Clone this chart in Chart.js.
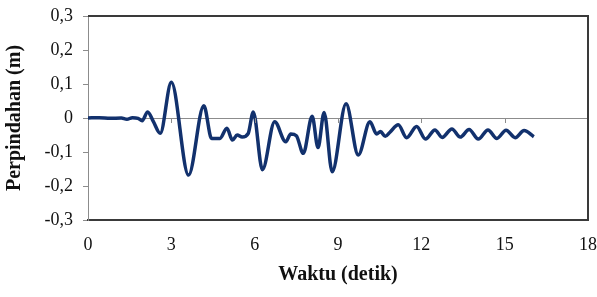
<!DOCTYPE html>
<html>
<head>
<meta charset="utf-8">
<script src="https://cdn.jsdelivr.net/npm/chart.js@4"></script>
<style>
  html, body { margin: 0; padding: 0; background: #fff; }
  #wrap { width: 597px; height: 297px; }
</style>
</head>
<body>
<div id="wrap"><canvas id="chartCanvas"></canvas></div>
<script>
"use strict";

// time (detik) and displacement (m)
const times = [0, 0.4, 0.8, 1.2, 1.4, 1.6, 1.8, 1.95, 2.15, 2.35, 2.6, 3.0, 3.62, 4.17, 4.45, 4.75, 5.0, 5.2, 5.37, 5.55, 5.77, 5.95,
  6.28, 6.72, 7.12, 7.3, 7.5, 7.75, 8.07, 8.28, 8.5, 8.79, 9.29, 9.73, 10.15, 10.39, 10.53, 10.7, 10.87, 11.17, 11.47, 11.83,
  12.15, 12.49, 12.75, 13.1, 13.4, 13.72, 14.05, 14.4, 14.72, 15.05, 15.38, 15.7, 16.05];
const disp = [0, 0.001, -0.001, 0, -0.004, 0.001, -0.001, -0.008, 0.018, -0.01, -0.045, 0.105, -0.168, 0.036, -0.06, -0.06, -0.03, -0.065, -0.05, -0.056, -0.045, 0.018,
  -0.152, -0.011, -0.07, -0.047, -0.052, -0.104, 0.005, -0.087, 0.016, -0.158, 0.042, -0.109, -0.011, -0.047, -0.04, -0.054, -0.042, -0.02, -0.058, -0.025,
  -0.062, -0.035, -0.057, -0.032, -0.056, -0.034, -0.062, -0.035, -0.06, -0.036, -0.058, -0.037, -0.055];

const xLabel = 'Waktu (detik)';
const yLabel = 'Perpindahan (m)';
const xMin = 0, xMax = 18, xStep = 3;
const yMin = -0.3, yMax = 0.3, yStep = 0.1;

const serif = "'Liberation Serif', 'Times New Roman', serif";

// frame on top/right plus small ticks on the zero line
const framePlugin = {
  id: 'frame',
  afterDraw(chart) {
    const { ctx, chartArea: a, scales } = chart;
    ctx.save();
    ctx.strokeStyle = '#3a3a3a';
    ctx.lineWidth = 2;
    ctx.beginPath();
    ctx.moveTo(a.left, a.top);
    ctx.lineTo(a.right, a.top);
    ctx.lineTo(a.right, a.bottom);
    ctx.stroke();
    const y0 = scales.y.getPixelForValue(0);
    ctx.strokeStyle = '#8c8c8c';
    ctx.lineWidth = 1;
    for (let v = xMin + xStep; v < xMax; v += xStep) {
      const px = Math.round(scales.x.getPixelForValue(v)) + 0.5;
      ctx.beginPath();
      ctx.moveTo(px, y0);
      ctx.lineTo(px, y0 + 5);
      ctx.stroke();
    }
    ctx.restore();
  }
};

const ctx = document.getElementById('chartCanvas').getContext('2d');
const chart = new Chart(ctx, {
  type: 'line',
  data: {
    datasets: [{
      data: times.map((t, i) => ({ x: t, y: disp[i] })),
      borderColor: '#12316d',
      borderWidth: 3.5,
      pointRadius: 0,
      cubicInterpolationMode: 'monotone',
      fill: false
    }]
  },
  options: {
    responsive: true,
    maintainAspectRatio: false,
    animation: false,
    layout: { padding: { left: 0, top: 16, right: 9, bottom: 0 } },
    plugins: { legend: { display: false }, tooltip: { enabled: false } },
    scales: {
      x: {
        type: 'linear',
        min: xMin,
        max: xMax,
        afterFit: s => { s.height = 77; s.paddingLeft = 0; s.paddingRight = 0; },
        ticks: {
          stepSize: xStep,
          padding: 14,
          color: '#111',
          font: { family: serif, size: 18 }
        },
        grid: { drawOnChartArea: false, drawTicks: false },
        border: { color: '#3a3a3a', width: 2 },
        title: {
          display: true,
          text: xLabel,
          color: '#111',
          font: { family: serif, size: 20, weight: 'bold' },
          padding: { top: 0, bottom: 10 }
        }
      },
      y: {
        min: yMin,
        max: yMax,
        afterFit: s => { s.width = 88; s.paddingTop = 0; s.paddingBottom = 0; },
        ticks: {
          stepSize: yStep,
          padding: 10,
          color: '#111',
          font: { family: serif, size: 18 },
          callback: v => Math.abs(v) < 1e-9 ? '0' : v.toFixed(1).replace('.', ',')
        },
        grid: {
          color: c => (c.tick && Math.abs(c.tick.value) < 1e-9) ? '#8c8c8c' : 'rgba(0,0,0,0)',
          tickColor: '#8c8c8c',
          tickLength: 5
        },
        border: { color: '#8c8c8c', width: 1 },
        title: {
          display: true,
          text: yLabel,
          color: '#111',
          font: { family: serif, size: 20, weight: 'bold' },
          padding: { top: 3, bottom: 0 }
        }
      }
    }
  },
  plugins: [framePlugin]
});
</script>
</body>
</html>
